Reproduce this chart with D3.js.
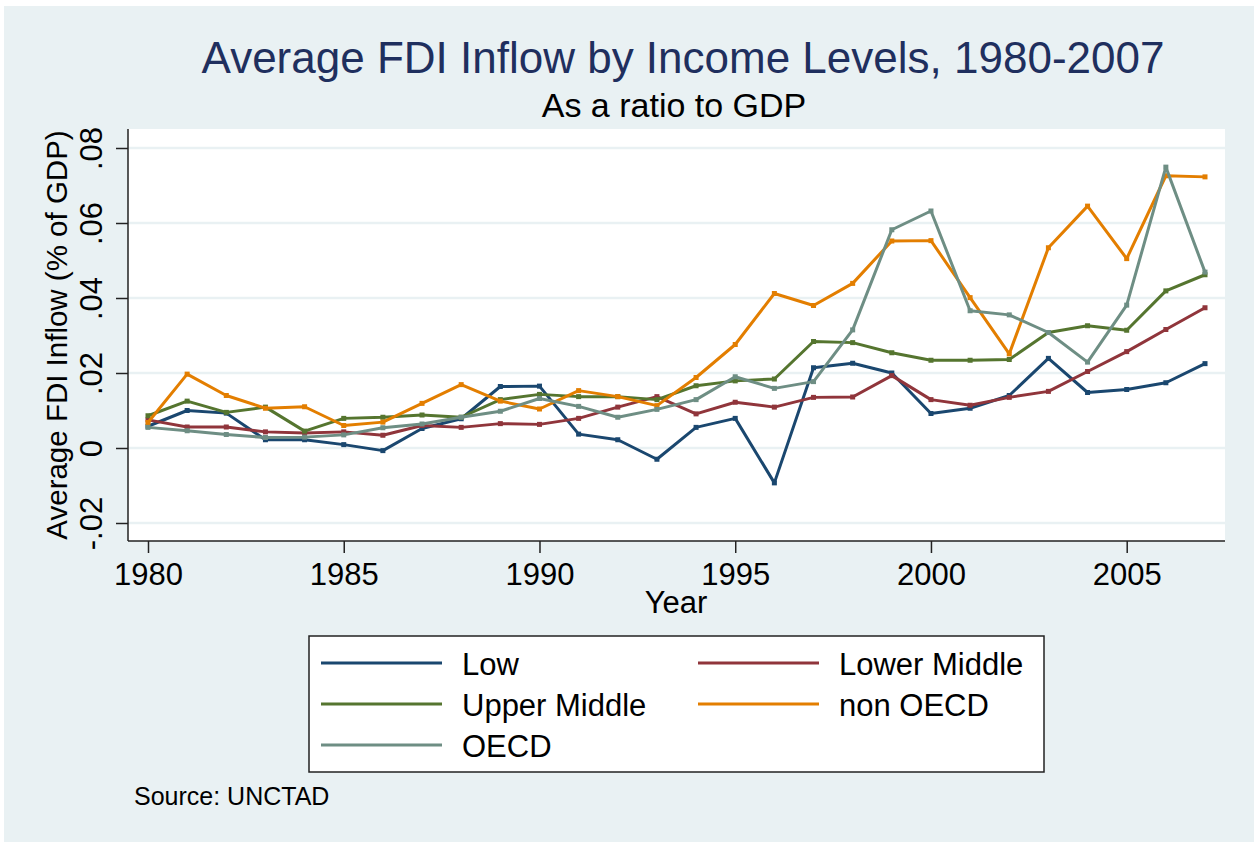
<!DOCTYPE html>
<html lang="en">
<head>
  <meta charset="UTF-8">
  <title>Average FDI Inflow by Income Levels</title>
  <style>
    body { margin: 0; background: #fff; }
    svg text { font-family: "Liberation Sans", Arial, sans-serif; }
  </style>
</head>
<body>
  <script src="https://d3js.org/d3.v7.min.js"></script>
  <script>
    const years = d3.range(1980, 2008);
    const low = [0.0058, 0.0100, 0.0093, 0.0022, 0.0022, 0.0009, -0.0007, 0.0052, 0.0078, 0.0164,
      0.0165, 0.0037, 0.0022, -0.0030, 0.0055, 0.0079, -0.0093, 0.0214, 0.0226, 0.0200,
      0.0092, 0.0106, 0.0140, 0.0239, 0.0148, 0.0156, 0.0174, 0.0225];
    const lowerMiddle = [0.0075, 0.0056, 0.0056, 0.0043, 0.0040, 0.0043, 0.0034, 0.0060, 0.0055, 0.0065,
      0.0063, 0.0079, 0.0109, 0.0137, 0.0091, 0.0122, 0.0109, 0.0135, 0.0136, 0.0193,
      0.0129, 0.0114, 0.0135, 0.0151, 0.0204, 0.0257, 0.0316, 0.0374];
    const upperMiddle = [0.0086, 0.0125, 0.0095, 0.0109, 0.0045, 0.0079, 0.0082, 0.0088, 0.0082, 0.0129,
      0.0143, 0.0137, 0.0137, 0.0129, 0.0166, 0.0179, 0.0184, 0.0284, 0.0281, 0.0254,
      0.0234, 0.0234, 0.0236, 0.0308, 0.0326, 0.0314, 0.0419, 0.0462];
    const nonOECD = [0.0068, 0.0197, 0.0140, 0.0106, 0.0110, 0.0060, 0.0069, 0.0119, 0.0169, 0.0125,
      0.0104, 0.0153, 0.0137, 0.0113, 0.0188, 0.0276, 0.0412, 0.0380, 0.0439, 0.0552,
      0.0553, 0.0401, 0.0251, 0.0534, 0.0645, 0.0505, 0.0726, 0.0723];
    const oecd = [0.0055, 0.0046, 0.0036, 0.0028, 0.0029, 0.0035, 0.0054, 0.0064, 0.0082, 0.0098,
      0.0132, 0.0111, 0.0082, 0.0103, 0.0129, 0.0190, 0.0159, 0.0177, 0.0315, 0.0582,
      0.0632, 0.0366, 0.0355, 0.0308, 0.0229, 0.0381, 0.0749, 0.0469];

    const seriesNames = ['Low', 'Lower Middle', 'Upper Middle', 'non OECD', 'OECD'];
    const seriesValues = [low, lowerMiddle, upperMiddle, nonOECD, oecd];
    const colors = ['#1a476f', '#90353b', '#55752f', '#e37e00', '#6e8e84'];
    const xTicks = [1980, 1985, 1990, 1995, 2000, 2005];
    const yTicks = [-0.02, 0, 0.02, 0.04, 0.06, 0.08];
    const yTickLabels = ['-.02', '0', '.02', '.04', '.06', '.08'];

    const width = 1254, height = 843;
    const plot = { left: 128, right: 1225, top: 129, bottom: 541 };
    const bg = '#e9f1f3';

    const svg = d3.select('body').append('svg')
      .attr('width', width).attr('height', height);

    // background
    svg.append('rect').attr('x', 4).attr('y', 6).attr('width', width - 4).attr('height', height - 7)
      .attr('fill', bg);
    svg.append('rect').attr('x', plot.left).attr('y', plot.top)
      .attr('width', plot.right - plot.left).attr('height', plot.bottom - plot.top)
      .attr('fill', '#fff');

    // scales
    const x = d3.scaleLinear().domain([1980, 2007]).range([148, 1205]);
    const y = d3.scaleLinear().domain([-0.02, 0.08]).range([523, 148]);

    // gridlines
    svg.append('g').selectAll('line').data(yTicks).join('line')
      .attr('x1', plot.left).attr('x2', plot.right)
      .attr('y1', d => y(d)).attr('y2', d => y(d))
      .attr('stroke', bg).attr('stroke-width', 2.5);

    // y axis (labels rotated, Stata style)
    const yAxis = d3.axisLeft(y).tickValues(yTicks).tickSize(12)
      .tickFormat((d, i) => yTickLabels[i]);
    svg.append('g').attr('transform', `translate(${plot.left},0)`)
      .call(yAxis)
      .call(g => g.select('.domain').attr('d', `M0,${plot.top}V${plot.bottom}`).attr('stroke', '#222').attr('stroke-width', 1.5))
      .call(g => g.selectAll('.tick line').attr('stroke', '#222').attr('stroke-width', 1.5))
      .call(g => g.selectAll('.tick text')
        .attr('font-size', 31).attr('fill', '#000')
        .attr('transform', 'rotate(-90)')
        .attr('text-anchor', 'middle')
        .attr('x', 0).attr('y', -26).attr('dy', 0));

    // x axis
    const xAxis = d3.axisBottom(x).tickValues(xTicks).tickSize(12).tickPadding(10).tickFormat(d3.format('d'));
    svg.append('g').attr('transform', `translate(0,${plot.bottom})`)
      .call(xAxis)
      .call(g => g.select('.domain').attr('d', `M${plot.left},0H${plot.right}`).attr('stroke', '#222').attr('stroke-width', 1.5))
      .call(g => g.selectAll('.tick line').attr('stroke', '#222').attr('stroke-width', 1.5))
      .call(g => g.selectAll('.tick text').attr('font-size', 31).attr('fill', '#000').attr('dy', '0.71em'));

    // axis titles
    svg.append('text').attr('transform', `translate(67,${(plot.top + plot.bottom) / 2}) rotate(-90)`)
      .attr('text-anchor', 'middle').attr('font-size', 29.5).attr('fill', '#000')
      .text('Average FDI Inflow (% of GDP)');
    svg.append('text').attr('x', 676).attr('y', 613)
      .attr('text-anchor', 'middle').attr('font-size', 31).attr('fill', '#000')
      .text('Year');

    // lines
    const line = d3.line().x((d, i) => x(years[i])).y(d => y(d));
    seriesValues.forEach((vals, k) => {
      const g = svg.append('g').classed('series', true);
      g.append('path').datum(vals)
        .attr('d', line).attr('fill', 'none')
        .attr('stroke', colors[k]).attr('stroke-width', 3).attr('stroke-linejoin', 'round');
      g.selectAll('rect').data(vals).join('rect')
        .attr('x', (d, i) => x(years[i]) - 2.5).attr('y', d => y(d) - 2.5)
        .attr('width', 5).attr('height', 5).attr('fill', colors[k]);
    });

    // titles
    svg.append('text').attr('x', 683).attr('y', 73).attr('text-anchor', 'middle')
      .attr('font-size', 44).attr('fill', '#1f2f5e')
      .text('Average FDI Inflow by Income Levels, 1980-2007');
    svg.append('text').attr('x', 674).attr('y', 117).attr('text-anchor', 'middle')
      .attr('font-size', 34).attr('fill', '#000')
      .text('As a ratio to GDP');

    // legend
    const legend = svg.append('g').classed('legend', true);
    legend.append('rect').attr('x', 309).attr('y', 636).attr('width', 735).attr('height', 136)
      .attr('fill', '#fff').attr('stroke', '#222').attr('stroke-width', 1.5);
    seriesNames.forEach((name, k) => {
      const col = k % 2, row = Math.floor(k / 2);
      const lx = col === 0 ? 321 : 698;
      const ly = 663 + row * 41;
      legend.append('line').attr('x1', lx).attr('x2', lx + 121).attr('y1', ly).attr('y2', ly)
        .attr('stroke', colors[k]).attr('stroke-width', 3);
      legend.append('text').attr('x', lx + 141).attr('y', ly + 12)
        .attr('font-size', 31).attr('fill', '#000').text(name);
    });

    // note
    svg.append('text').attr('x', 134).attr('y', 805).attr('font-size', 25).attr('fill', '#000')
      .text('Source: UNCTAD');
  </script>
</body>
</html>
